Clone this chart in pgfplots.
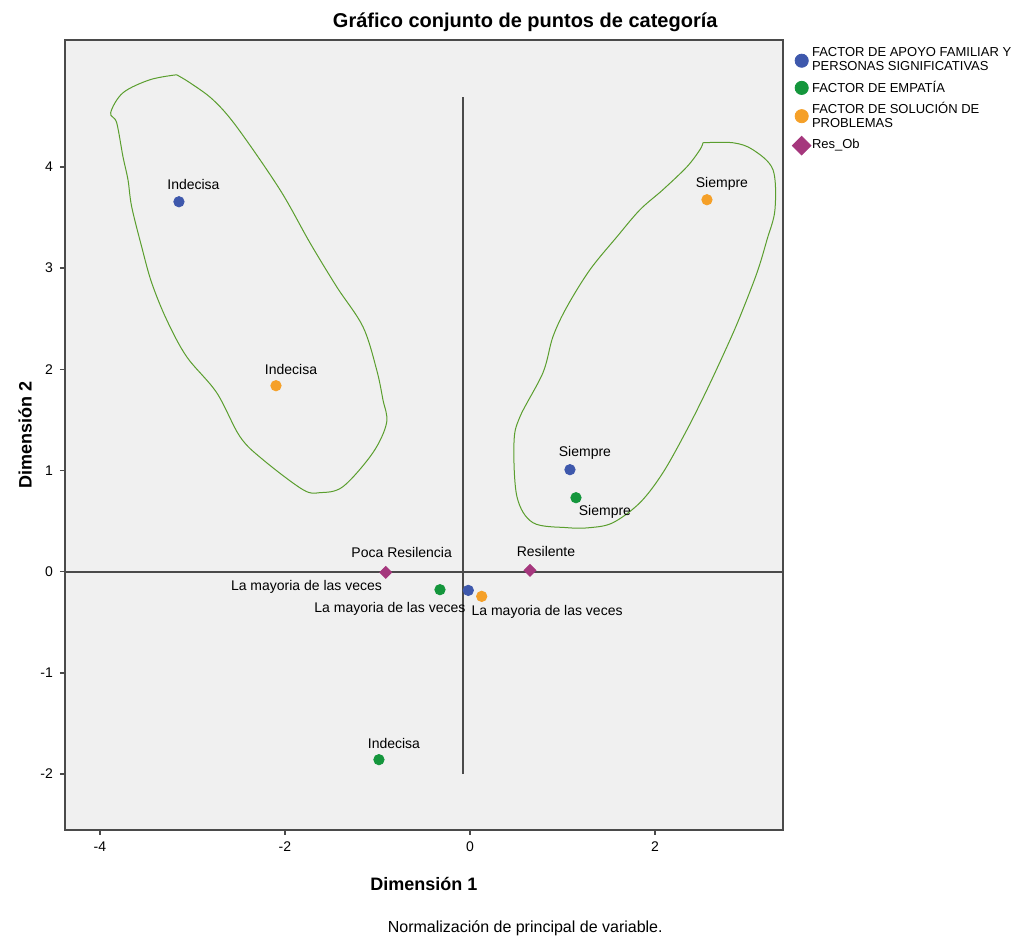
\documentclass[border=0pt]{standalone}
\usepackage{fontspec}
\setmainfont{Liberation Sans}
\usepackage{pgfplots}
\usepackage{pgfplotstable}
\pgfplotsset{compat=1.18}

\definecolor{catblue}{HTML}{3E58AC}
\definecolor{catgreen}{HTML}{14963C}
\definecolor{catorange}{HTML}{F5A028}
\definecolor{catpurple}{HTML}{A5377D}
\definecolor{loopgreen}{HTML}{5A9E2E}
\definecolor{panel}{HTML}{F0F0F0}
\definecolor{axisgray}{HTML}{4A4A4A}

% category points: coordinates, label offset (pt), label text
\pgfplotstableread[col sep=comma,row sep=\\]{
x,y,dx,dy,lab\\
-3.146,3.656,7.25,8.5,Indecisa\\
1.081,1.008,7.5,8.5,Siempre\\
-0.018,-0.185,-39.2,-9.2,La mayoria de las veces\\
}\apoyo
\pgfplotstableread[col sep=comma,row sep=\\]{
x,y,dx,dy,lab\\
-0.984,-1.858,7.5,8,Indecisa\\
1.146,0.731,14.5,-7,Siempre\\
-0.324,-0.178,-66.75,1.5,La mayoria de las veces\\
}\empatia
\pgfplotstableread[col sep=comma,row sep=\\]{
x,y,dx,dy,lab\\
-2.097,1.838,7.5,8,Indecisa\\
2.562,3.676,7.5,8,Siempre\\
0.127,-0.244,32.7,-7.7,La mayoria de las veces\\
}\solucion
\pgfplotstableread[col sep=comma,row sep=\\]{
x,y,dx,dy,lab\\
-0.911,-0.007,8,10,Poca Resilencia\\
0.649,0.013,8,9.5,Resilente\\
}\resob

\pgfplotsset{
  catpts/.style={
    only marks, mark size=2.6pt,
    mark options={draw=#1, fill=#1},
    nodes near coords, point meta=explicit symbolic,
    visualization depends on={\thisrow{dx} \as \ldx},
    visualization depends on={\thisrow{dy} \as \ldy},
    every node near coord/.append style={anchor=center, xshift=\ldx pt,
      yshift=\ldy pt, text=black, inner sep=0pt,
      font=\fontsize{7}{8}\selectfont},
  },
}

\begin{document}
\begin{tikzpicture}
\begin{axis}[
  scale only axis, width=359pt, height=395pt,
  xmin=-4.378, xmax=3.384, ymin=-2.553, ymax=5.255,
  xtick={-4,-2,0,2}, ytick={-2,-1,0,1,2,3,4},
  tick align=outside, xtick pos=bottom, ytick pos=left,
  major tick length=2.5pt,
  axis line style={draw=axisgray, line width=0.9pt},
  every tick/.style={axisgray, line width=0.8pt},
  axis background/.style={fill=panel},
  tick label style={font=\fontsize{7}{8}\selectfont, text=black},
  /pgf/number format/assume math mode=true,
  xlabel={Dimensión 1}, ylabel={Dimensión 2},
  label style={font=\bfseries\fontsize{9}{10}\selectfont},
  xlabel style={at={(rel axis cs:0.5,-0.0684)}, anchor=center},
  ylabel style={at={(rel axis cs:-0.0557,0.5)}, anchor=center},
  clip=false,
  legend style={at={(rel axis cs:1.0125,0.992)}, anchor=north west,
    draw=none, fill=none, font=\fontsize{6.5}{7}\selectfont,
    cells={anchor=west, align=left}, row sep=2.5pt, inner sep=0pt,
    nodes={inner sep=0.5pt}},
  legend cell align=left,
  legend image code/.code={\draw[#1, mark size=3.3pt] plot coordinates {(0pt,0pt)};},
]
% reference lines
\addplot[forget plot, axisgray, line width=1pt] coordinates {(-4.378,0) (3.384,0)};
\addplot[forget plot, axisgray, line width=1pt] coordinates {(-0.07,-2.0) (-0.07,4.69)};

% hand-drawn groupings
\addplot[forget plot, loopgreen, line width=0.5pt, smooth, tension=0.55] coordinates {
(-3.171,4.911) (-3.459,4.862) (-3.751,4.733) (-3.884,4.536) (-3.819,4.437)
(-3.751,4.101) (-3.697,3.874) (-3.657,3.607) (-3.549,3.211) (-3.441,2.856)
(-3.279,2.490) (-3.063,2.125) (-2.738,1.769) (-2.486,1.334) (-2.238,1.107)
(-1.805,0.810) (-1.622,0.781) (-1.373,0.840) (-1.049,1.176) (-0.901,1.472)
(-0.941,1.700) (-1.009,1.996) (-1.157,2.421) (-1.441,2.816) (-1.730,3.251)
(-2.054,3.775) (-2.522,4.397) (-2.778,4.664) (-3.027,4.832) (-3.171,4.911)};
\addplot[forget plot, loopgreen, line width=0.5pt, smooth, tension=0.55] coordinates {
(2.519,4.239) (2.843,4.239) (3.059,4.170) (3.276,3.972) (3.297,3.577)
(3.211,3.281) (3.103,2.955) (2.919,2.520) (2.778,2.223) (2.562,1.798)
(2.346,1.403) (2.086,0.978) (1.838,0.682) (1.546,0.484) (1.297,0.435)
(1.049,0.435) (0.681,0.484) (0.508,0.741) (0.476,1.275) (0.541,1.532)
(0.789,1.966) (0.897,2.322) (1.049,2.619) (1.297,2.984) (1.589,3.310)
(1.838,3.577) (2.086,3.775) (2.346,4.002) (2.486,4.170) (2.519,4.239)};

\addplot[catpts=catblue, mark=*] table[x=x, y=y, meta=lab] {\apoyo};
\addlegendentry{FACTOR DE APOYO FAMILIAR Y\\PERSONAS SIGNIFICATIVAS}
\addplot[catpts=catgreen, mark=*] table[x=x, y=y, meta=lab] {\empatia};
\addlegendentry{FACTOR DE EMPATÍA}
\addplot[catpts=catorange, mark=*] table[x=x, y=y, meta=lab] {\solucion};
\addlegendentry{FACTOR DE SOLUCIÓN DE\\PROBLEMAS}
\addplot[catpts=catpurple, mark=square*, mark size=2.1pt,
  mark options={draw=catpurple, fill=catpurple, rotate=45},
  legend image post style={mark size=2.8pt}]
  table[x=x, y=y, meta=lab] {\resob};
\addlegendentry{Res\_Ob}

\node[font=\bfseries\fontsize{10}{12}\selectfont] at (rel axis cs:0.641,1) [yshift=9pt]
  {Gráfico conjunto de puntos de categoría};
\node[font=\fontsize{8}{9}\selectfont] at (rel axis cs:0.641,0) [yshift=-49pt]
  {Normalización de principal de variable.};

\coordinate (bbsw) at (rel axis cs:-0.0905,-0.1354);
\coordinate (bbne) at (rel axis cs:1.3273,1.0506);
\end{axis}
\pgfresetboundingbox
\path[use as bounding box] (bbsw) rectangle (bbne);
\end{tikzpicture}
\end{document}
